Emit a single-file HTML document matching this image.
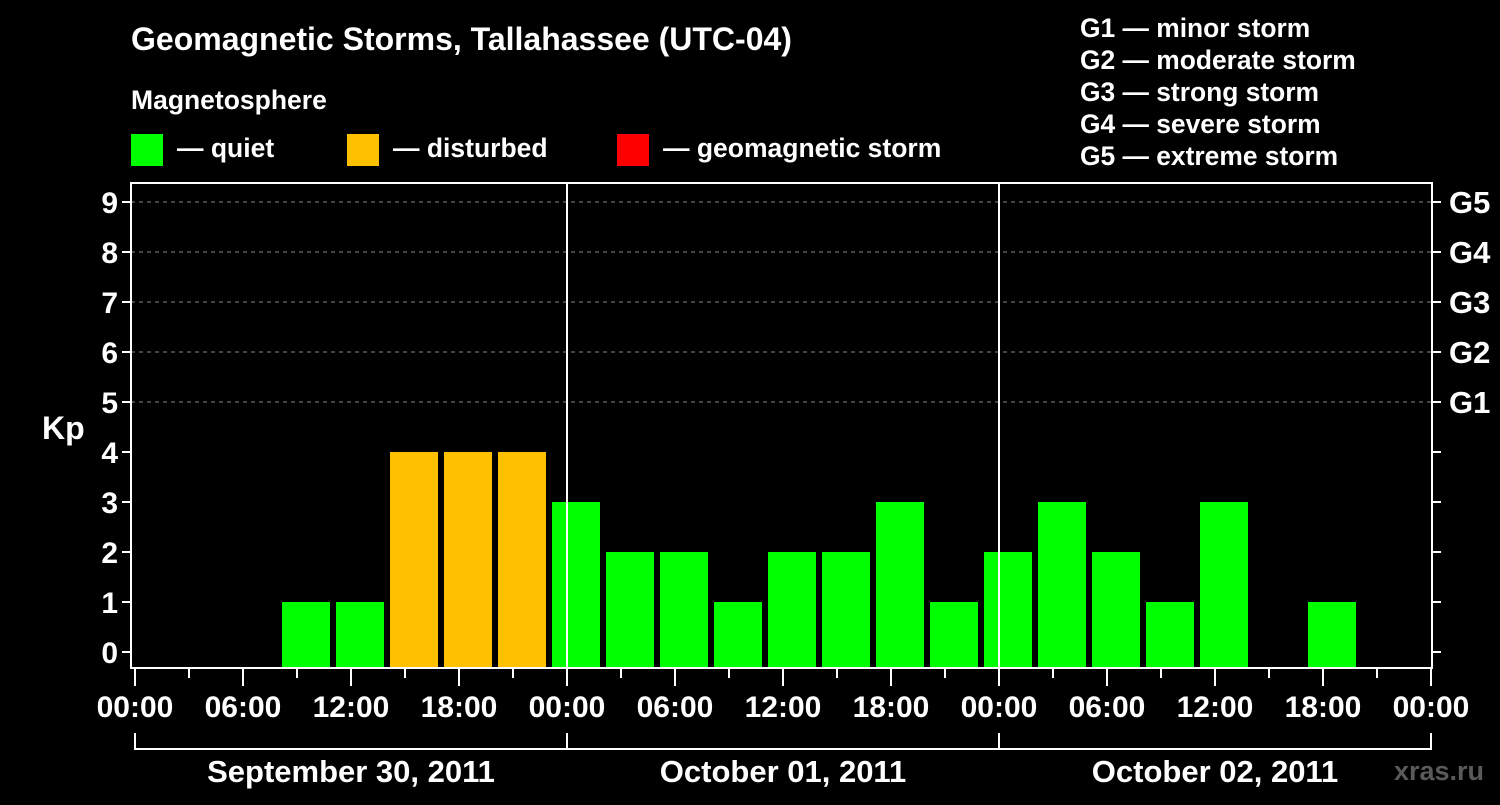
<!DOCTYPE html>
<html><head><meta charset="utf-8"><style>
body{margin:0;background:#000;}
svg text{font-family:"Liberation Sans",Arial,sans-serif;font-weight:bold;fill:#fff;}
</style></head><body>
<svg id="chart" width="1500" height="800" xmlns="http://www.w3.org/2000/svg">
<rect width="1500" height="800" fill="#000"/>
<text x="131" y="50" font-size="32">Geomagnetic Storms, Tallahassee (UTC-04)</text>
<text x="131" y="109" font-size="26.5">Magnetosphere</text>
<rect x="131" y="134" width="32" height="32" fill="#00ff00"/>
<text x="177" y="157" font-size="26.5">— quiet</text>
<rect x="347" y="134" width="32" height="32" fill="#ffc000"/>
<text x="393" y="157" font-size="26.5">— disturbed</text>
<rect x="617" y="134" width="32" height="32" fill="#ff0000"/>
<text x="663" y="157" font-size="26.5">— geomagnetic storm</text>
<g font-size="26.4">
<text x="1080" y="37">G1 — minor storm</text>
<text x="1080" y="69">G2 — moderate storm</text>
<text x="1080" y="101">G3 — strong storm</text>
<text x="1080" y="133">G4 — severe storm</text>
<text x="1080" y="165">G5 — extreme storm</text>
</g>
<text x="42" y="439" font-size="32">Kp</text>
<text x="1484" y="780" font-size="27" text-anchor="end" style="fill:#5a5a5a">xras.ru</text>
<g id="plot"></g>
</svg>
<script>
const kpValues=[0,0,0,1,1,4,4,4,3,2,2,1,2,2,3,1,2,3,2,1,3,0,1,0];
const yTicks=[0,1,2,3,4,5,6,7,8,9];
const gLabels=["G1","G2","G3","G4","G5"];
const xTickLabels=["00:00","06:00","12:00","18:00","00:00","06:00","12:00","18:00","00:00","06:00","12:00","18:00","00:00"];
const dayLabels=["September 30, 2011","October 01, 2011","October 02, 2011"];

const NS="http://www.w3.org/2000/svg";
const g=document.getElementById('plot');
const X0=135, SLOT=54, L=131, R=1432, T=183, B=668;
const xAt=h=>X0+h/3*SLOT;
const yAt=v=>652-v*50;
function mk(tag,attrs,parent){const e=document.createElementNS(NS,tag);for(const k in attrs)e.setAttribute(k,attrs[k]);(parent||g).appendChild(e);return e;}
yTicks.forEach(v=>{
  if(v>=5){const l=mk('line',{x1:L,x2:R,y1:yAt(v),y2:yAt(v),stroke:'#888','stroke-dasharray':'4,4','stroke-width':1});
  
  }
  const t=mk('line',{x1:L-9,x2:L,y1:yAt(v),y2:yAt(v),stroke:'#fff','stroke-width':2});
  
  
  const t2=mk('line',{x1:R,x2:R+9,y1:yAt(v),y2:yAt(v),stroke:'#fff','stroke-width':2});
  
  
  const lb=mk('text',{x:L-13,y:yAt(v)+11,'font-size':30,'text-anchor':'end'});lb.textContent=v;
  
  
});
gLabels.forEach((s,i)=>{
  const lb=mk('text',{x:1449,y:yAt(5+i)+11,'font-size':31});lb.textContent=s;
  
  
});
kpValues.forEach((v,i)=>{
  if(v<=0)return;
  const bx=X0+SLOT*i-15;
  const top=yAt(v);
  const b=mk('rect',{x:bx,y:top,width:48,height:B-top,fill:v>=5?'#ff0000':(v>=4?'#ffc000':'#00ff00')});
  
  
});
[1,2].forEach(d=>{const l=mk('line',{x1:xAt(24*d),x2:xAt(24*d),y1:T,y2:B,stroke:'#fff','stroke-width':2});
  
  });
const f=mk('path',{d:`M${L},${T}H${R}V${B}H${L}Z`,fill:'none',stroke:'#fff','stroke-width':2});


for(let i=0;i<=24;i++){
  const major=i%2===0;
  const t=mk('line',{x1:xAt(i*3),x2:xAt(i*3),y1:B,y2:major?686:678,stroke:'#fff','stroke-width':2});
  
  
}
xTickLabels.forEach((s,i)=>{
  const lb=mk('text',{x:xAt(i*6),y:717,'font-size':30,'text-anchor':'middle'});lb.textContent=s;
  
  
});
const br=mk('path',{d:`M${xAt(0)},733V749H${xAt(72)}V733M${xAt(24)},733V749M${xAt(48)},733V749`,fill:'none',stroke:'#fff','stroke-width':2});


dayLabels.forEach((s,i)=>{
  const lb=mk('text',{x:xAt(24*i+12),y:782,'font-size':31,'text-anchor':'middle'});lb.textContent=s;
  
  
});
</script>
</body></html>
